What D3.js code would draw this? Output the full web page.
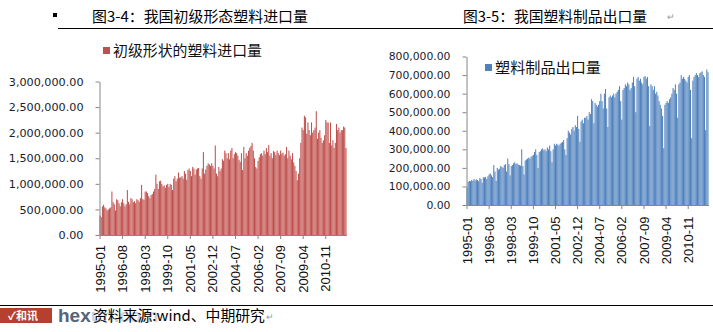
<!DOCTYPE html>
<html>
<head>
<meta charset="utf-8">
<script src="https://cdn.jsdelivr.net/npm/d3@7"></script>
<style>
  body { margin: 0; background: #fff; }
  svg { display: block; }
</style>
</head>
<body>
<svg id="page" width="713" height="332"></svg>
<script>
// Monthly categories 1995-01 .. 2012-04
const startYear = 1995, monthCount = 208;
const months = d3.range(monthCount).map(i =>
  `${startYear + Math.floor(i / 12)}-${String(i % 12 + 1).padStart(2, "0")}`);

// Labelled ticks on the category axis (every 19 months)
const tickLabels = ["1995-01", "1996-08", "1998-03", "1999-10", "2001-05", "2002-12",
                    "2004-07", "2006-02", "2007-09", "2009-04", "2010-11"];

// 初级形状的塑料进口量 (thousand tonnes), one row per year
const importValues = [
  380, 350, 560, 590, 540, 520, 480, 500, 520, 540, 850, 640,        // 1995
  600, 480, 700, 680, 620, 560, 640, 700, 620, 560, 600, 880,        // 1996
  650, 600, 720, 700, 640, 660, 620, 700, 680, 650, 720, 980,        // 1997
  700, 690, 850, 850, 820, 760, 720, 780, 800, 850, 900, 1180,       // 1998
  1000, 900, 1050, 1060, 1000, 950, 970, 920, 980, 1000, 940, 1000,  // 1999
  980, 880, 1100, 1150, 1050, 1100, 1220, 1120, 1130, 1150, 1100, 1250, // 2000
  1200, 1080, 1270, 1300, 1250, 1150, 1330, 1300, 1180, 1280, 1300, 1310, // 2001
  1150, 1100, 1300, 1620, 1200, 1280, 1350, 1400, 1380, 1350, 1400, 1350, // 2002
  1300, 1750, 1200, 1150, 1330, 1250, 1300, 1480, 1450, 1650, 1600, 1500, // 2003
  1600, 1480, 1650, 1700, 1500, 1580, 1620, 1600, 1550, 1470, 1430, 1600, // 2004
  1270, 1720, 1500, 1600, 1550, 1650, 1700, 1740, 1800, 1650, 1500, 1330, // 2005
  1300, 1450, 1520, 1580, 1600, 1550, 1650, 1580, 1700, 1620, 1760, 1550, // 2006
  1600, 1500, 1640, 1620, 1560, 1650, 1600, 1560, 1650, 1590, 1610, 1550, // 2007
  1580, 1720, 1500, 1650, 1550, 1480, 1600, 1420, 1350, 1250, 1070, 1200, // 2008
  1500, 1800, 2100, 2050, 2330, 2300, 1980, 2200, 2050, 1950, 2200, 2000, // 2009
  2050, 2100, 2420, 1880, 2000, 2050, 1900, 1800, 1850, 1950, 2250, 2200, // 2010
  2200, 1800, 2200, 1750, 1850, 1700, 1800, 2170, 2050, 2100, 2000, 2050, // 2011
  2050, 2120, 2100, 1700                                                  // 2012
];

// 塑料制品出口量 (thousand tonnes), one row per year
const exportValues = [
  95, 125, 130, 128, 135, 130, 140, 132, 138, 135, 128, 145,   // 1995
  140, 120, 150, 148, 152, 140, 155, 165, 170, 160, 150, 215,  // 1996
  180, 130, 200, 190, 195, 210, 205, 200, 215, 220, 180, 250,  // 1997
  220, 160, 210, 215, 225, 230, 220, 225, 218, 215, 212, 300,  // 1998
  210, 165, 240, 245, 250, 255, 250, 260, 265, 270, 285, 300,  // 1999
  270, 200, 285, 290, 300, 305, 295, 300, 290, 310, 300, 320,  // 2000
  290, 230, 300, 330, 320, 330, 325, 320, 330, 335, 340, 350,  // 2001
  300, 270, 360, 400, 390, 380, 410, 420, 400, 430, 420, 480,  // 2002
  410, 340, 450, 460, 440, 470, 470, 480, 460, 500, 490, 570,  // 2003
  560, 440, 550, 540, 530, 540, 560, 600, 560, 520, 600, 625,  // 2004
  520, 420, 580, 590, 580, 590, 600, 580, 600, 610, 620, 640,  // 2005
  560, 460, 620, 630, 650, 640, 660, 650, 620, 630, 660, 690,  // 2006
  640, 500, 680, 690, 670, 680, 660, 650, 690, 695, 680, 690,  // 2007
  640, 425, 650, 640, 620, 640, 600, 610, 590, 560, 540, 520,  // 2008
  480, 306, 540, 550, 560, 550, 570, 580, 600, 630, 620, 650,  // 2009
  600, 470, 650, 660, 700, 680, 690, 680, 670, 660, 690, 700,  // 2010
  620, 360, 670, 690, 700, 710, 700, 690, 710, 715, 720, 700,  // 2011
  690, 403, 730, 715                                           // 2012
];

const importTicks = [0, 500000, 1000000, 1500000, 2000000, 2500000, 3000000];
const exportTicks = [0, 100000, 200000, 300000, 400000, 500000, 600000, 700000, 800000];

const svg = d3.select("#page");
const cjk = "'Noto Sans CJK SC', 'Noto Sans', sans-serif";
const axisGrey = "#868686";
const fmt = d3.format(",.2f");

// scale a text's font size so that it spans the given width
function fitWidth(sel, width) {
  const base = parseFloat(sel.style("font-size"));
  const len = sel.node().getComputedTextLength();
  if (len > 0) sel.style("font-size", (base * width / len).toFixed(2) + "px");
  return sel;
}

function drawChart(o) {
  const g = svg.append("g");
  const x = d3.scaleBand().domain(months).range([o.left, o.right]).paddingInner(0.12);
  const y = d3.scaleLinear().domain([0, o.max]).range([o.bottom, o.top]);

  g.append("g").selectAll("rect")
    .data(o.values.map((v, i) => ({ m: months[i], v: v * 1000 })))
    .join("rect")
    .attr("x", d => x(d.m))
    .attr("width", x.bandwidth())
    .attr("y", d => y(d.v))
    .attr("height", d => y(0) - y(d.v))
    .attr("fill", o.color);

  // value axis
  const ya = g.append("g")
    .attr("transform", `translate(${o.left},0)`)
    .call(d3.axisLeft(y).tickValues(o.ticks).tickFormat(fmt)
      .tickSize(4).tickSizeOuter(0).tickPadding(12));
  ya.select(".domain").attr("stroke", axisGrey);
  ya.selectAll(".tick line").attr("stroke", axisGrey);
  ya.selectAll("text")
    .attr("fill", "#1c1c2c")
    .style("font-family", "'DejaVu Sans', sans-serif")
    .style("font-size", o.yFont + "px");

  // category axis with vertical labels
  const xa = g.append("g")
    .attr("transform", `translate(0,${o.bottom})`)
    .call(d3.axisBottom(x).tickValues(tickLabels).tickSize(4).tickSizeOuter(0));
  xa.select(".domain").attr("stroke", axisGrey);
  xa.selectAll(".tick line").attr("stroke", axisGrey);
  xa.selectAll("text")
    .attr("transform", "rotate(-90)")
    .attr("text-anchor", "end")
    .attr("x", -o.labelGap)
    .attr("y", 0)
    .attr("dy", "0.35em")
    .attr("fill", "#111")
    .style("font-family", "'Liberation Sans', Arial, sans-serif")
    .style("font-size", "13px");

  // legend
  svg.append("rect")
    .attr("x", o.legendX).attr("y", o.legendY - 3)
    .attr("width", 7).attr("height", 7)
    .attr("fill", o.color);
  const lt = svg.append("text")
    .attr("x", o.legendX + 10).attr("y", o.legendY)
    .attr("dy", "0.38em")
    .style("font-family", cjk).style("font-size", "15px")
    .attr("fill", "#111")
    .text(o.legend);
  fitWidth(lt, o.legendWidth);
}

// titles and rules
svg.append("rect").attr("x", 53).attr("y", 13).attr("width", 4).attr("height", 4).attr("fill", "#000");
fitWidth(svg.append("text").attr("x", 92).attr("y", 22)
  .style("font-family", cjk).style("font-size", "14px").attr("fill", "#000")
  .text("图3-4：我国初级形态塑料进口量"), 216);
fitWidth(svg.append("text").attr("x", 463).attr("y", 22)
  .style("font-family", cjk).style("font-size", "14px").attr("fill", "#000")
  .text("图3-5：我国塑料制品出口量"), 184);
svg.append("text").attr("x", 667).attr("y", 20)
  .style("font-family", cjk).style("font-size", "9px").attr("fill", "#999")
  .text("↵");
svg.append("line").attr("x1", 58).attr("x2", 713).attr("y1", 28.5).attr("y2", 28.5)
  .attr("stroke", "#000").attr("stroke-width", 1);

drawChart({
  values: importValues, ticks: importTicks, max: 3000000,
  left: 99.5, right: 346.5, top: 81.5, bottom: 235,
  color: "#c0504d", yFont: 11.2, labelGap: 10,
  legend: "初级形状的塑料进口量", legendX: 103, legendY: 50, legendWidth: 149
});

drawChart({
  values: exportValues, ticks: exportTicks, max: 800000,
  left: 466.5, right: 708.5, top: 56.5, bottom: 205,
  color: "#4f81bd", yFont: 10.8, labelGap: 11.5,
  legend: "塑料制品出口量", legendX: 485, legendY: 67, legendWidth: 106
});

// footer
svg.append("line").attr("x1", 0).attr("x2", 713).attr("y1", 305.5).attr("y2", 305.5)
  .attr("stroke", "#000").attr("stroke-width", 1.2);
svg.append("rect").attr("x", 0).attr("y", 308).attr("width", 52).attr("height", 15).attr("fill", "#b5402f");
svg.append("text").attr("x", 8).attr("y", 320)
  .style("font-family", cjk).style("font-size", "11px").style("font-weight", "bold")
  .attr("fill", "#fff").text("✓和讯");
const wm = svg.append("text").attr("x", 58).attr("y", 322)
  .style("font-family", "'Liberation Sans', Arial, sans-serif")
  .style("font-size", "19px").style("font-weight", "bold");
wm.append("tspan").attr("fill", "#56637a").text("hex");
wm.append("tspan").attr("fill", "#56637a").attr("fill-opacity", 0.3).text("un.com");
fitWidth(svg.append("text").attr("x", 93).attr("y", 321)
  .style("font-family", cjk).style("font-size", "14px").attr("fill", "#000")
  .text("资料来源:wind、中期研究"), 172);
svg.append("text").attr("x", 266).attr("y", 320)
  .style("font-family", cjk).style("font-size", "9px").attr("fill", "#999")
  .text("↵");
</script>
</body>
</html>
